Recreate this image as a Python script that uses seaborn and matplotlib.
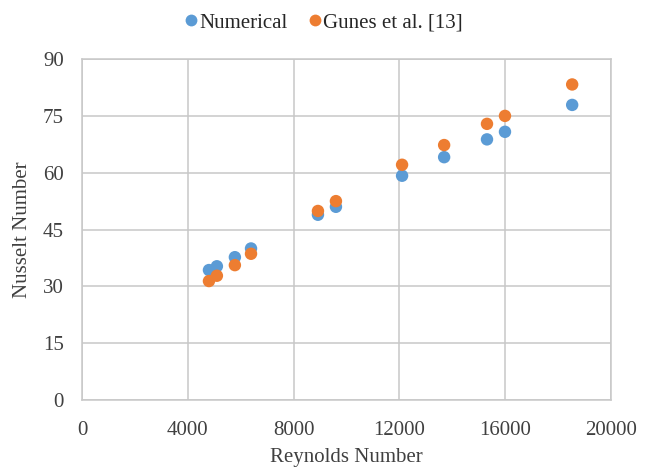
import pandas as pd
import matplotlib
matplotlib.use("Agg")
import matplotlib.pyplot as plt
import seaborn as sns

# values
re_num = [4800, 5100, 5780, 6390, 8920, 9600, 12100, 13690, 15310, 15990, 18530]
nu_num = [34.3, 35.3, 37.7, 40.0, 48.9, 51.0, 59.2, 64.1, 68.8, 70.8, 77.9]
re_gunes = [4800, 5100, 5780, 6390, 8920, 9600, 12100, 13690, 15310, 15990, 18530]
nu_gunes = [31.4, 32.8, 35.6, 38.6, 49.9, 52.5, 62.1, 67.3, 72.9, 75.0, 83.3]
series_names = ["Numerical", "Gunes et al. [13]"]
series_colors = ["#5B9BD5", "#ED7D31"]
x_ticks = [0, 4000, 8000, 12000, 16000, 20000]
y_ticks = [0, 15, 30, 45, 60, 75, 90]

df = pd.concat([
    pd.DataFrame({"Re": re_num, "Nu": nu_num, "src": series_names[0]}),
    pd.DataFrame({"Re": re_gunes, "Nu": nu_gunes, "src": series_names[1]}),
])

sns.set_style("white")
plt.rcParams['font.family'] = ['Liberation Serif', 'DejaVu Serif']

fig = plt.figure(figsize=(6.48, 4.67), dpi=100)
ax = fig.add_axes([0.1265, 0.1435, 0.8165, 0.73])

sns.scatterplot(data=df, x="Re", y="Nu", hue="src", palette=series_colors,
                s=80, edgecolor="none", linewidth=0, ax=ax, zorder=3)

ax.set_xlim(0, 20000)
ax.set_ylim(0, 90)
ax.set_xticks(x_ticks)
ax.set_yticks(y_ticks)
ax.tick_params(axis="both", labelsize=15, colors="#404040", length=0)
ax.tick_params(axis="x", pad=15)
ax.tick_params(axis="y", pad=13)
ax.grid(True, color="#C8C8C8", linewidth=1.1)
for sp in ax.spines.values():
    sp.set_color("#C8C8C8")
    sp.set_linewidth(1.1)

ax.set_xlabel("Reynolds Number", fontsize=15, color="#404040", labelpad=6)
ax.set_ylabel("Nusselt Number", fontsize=15, color="#404040", labelpad=8)

handles, labels = ax.get_legend_handles_labels()
ax.legend(handles, labels, loc="upper center", bbox_to_anchor=(0.5 - 0.043, 1.19),
          ncol=2, frameon=False, fontsize=15, handlelength=0.6, handletextpad=0.1,
          columnspacing=1.0, markerscale=0.95)

fig.savefig("out.png", dpi=100)
